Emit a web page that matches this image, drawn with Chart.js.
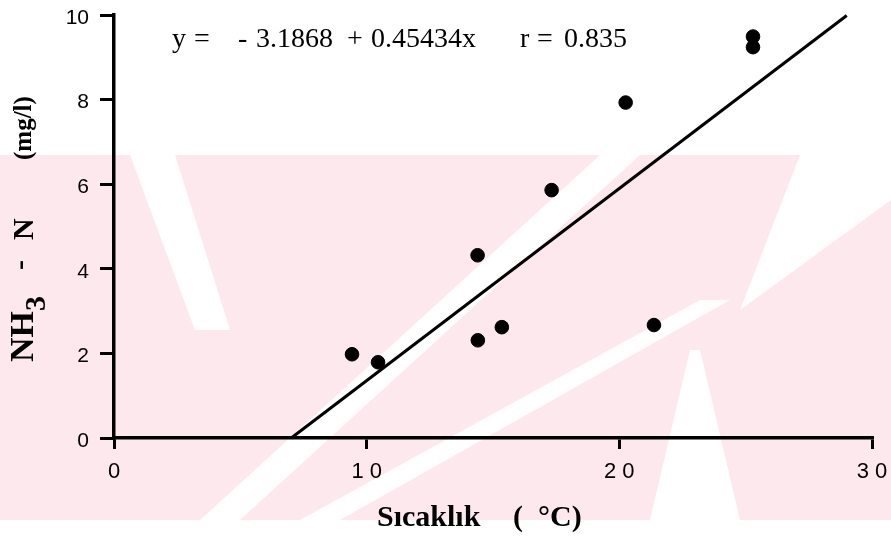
<!DOCTYPE html>
<html>
<head>
<meta charset="utf-8">
<script src="https://cdn.jsdelivr.net/npm/chart.js@4.4.0/dist/chart.umd.min.js"></script>
<style>
  html, body { margin: 0; background: #fff; }
  #wrap { width: 891px; height: 538px; }
</style>
</head>
<body>
<div id="wrap"><canvas id="chart"></canvas></div>
<script>
// Ammonia nitrogen vs. water temperature
const tempC  = [9.42, 10.45, 14.39, 14.40, 15.35, 17.32, 20.25, 21.37, 25.29, 25.29];
const nh3N   = [1.98, 1.79, 4.32, 2.31, 2.62, 5.86, 7.93, 2.67, 9.49, 9.24];
const xTicks = [0, 10, 20, 30];
const yTicks = [0, 2, 4, 6, 8, 10];

// regression y = a + b x, drawn from where it leaves y = 0 up to its top end
const intercept = -3.1868;
const slope     = 0.45434;
const rValue    = 0.835;
const fitEndX   = 29.0;

const points  = tempC.map((t, i) => ({ x: t, y: nh3N[i] }));
const fitLine = [-intercept / slope, fitEndX].map(x => ({ x, y: intercept + slope * x }));

const INK   = '#000';
const PINK  = '#fde9ed';
const SERIF = '"Liberation Serif", "Times New Roman", serif';
const SANS  = '"Liberation Sans", Arial, sans-serif';

// pale background stripes behind the plot
const backdrop = {
  id: 'backdrop',
  beforeDraw(chart) {
    const ctx = chart.ctx;
    ctx.save();
    ctx.fillStyle = PINK;
    ctx.fillRect(0, 155, 891, 365);
    ctx.fillStyle = '#fff';
    const bands = [
      [[130, 155], [175, 155], [230, 330], [195, 330]],
      [[600, 155], [640, 155], [240, 520], [200, 520]],
      [[700, 300], [730, 300], [340, 520], [300, 520]],
      [[740, 310], [891, 200], [891, 155], [800, 155]],
      [[690, 350], [700, 350], [740, 520], [650, 520]],
    ];
    bands.forEach(poly => {
      ctx.beginPath();
      poly.forEach(([x, y], i) => i ? ctx.lineTo(x, y) : ctx.moveTo(x, y));
      ctx.closePath();
      ctx.fill();
    });
    ctx.restore();
  }
};

// tick labels on x, axis titles and the fit equation
const annotations = {
  id: 'annotations',
  afterDraw(chart) {
    const ctx = chart.ctx;
    const xs = chart.scales.x;
    ctx.save();
    ctx.fillStyle = INK;

    // spaced-out x tick numbers
    ctx.font = '22px ' + SANS;
    ctx.textBaseline = 'alphabetic';
    ctx.textAlign = 'left';
    const gap = 6;
    xTicks.forEach(v => {
      const chars = [...String(v)];
      const w = chars.reduce((acc, ch) => acc + ctx.measureText(ch).width, 0) + gap * (chars.length - 1);
      let x = xs.getPixelForValue(v) - w / 2;
      chars.forEach(ch => { ctx.fillText(ch, x, 478); x += ctx.measureText(ch).width + gap; });
    });

    // x title
    ctx.font = 'bold 30px ' + SERIF;
    ctx.fillText('Sıcaklık', 377, 526);
    ctx.fillText('(', 513, 526);
    ctx.fillText('°C)', 538, 526);

    // y title, reading upwards
    ctx.save();
    ctx.translate(33, 362);
    ctx.rotate(-Math.PI / 2);
    ctx.font = 'bold 34px ' + SERIF;
    ctx.fillText('NH', 0, 0);
    let cx = ctx.measureText('NH').width;
    ctx.font = 'bold 30px ' + SERIF;
    ctx.fillText('3', cx, 12);
    cx += ctx.measureText('3').width + 26;
    ctx.fillText('-', cx, -4);
    ctx.fillText('N', 362 - 240, 0);
    ctx.font = 'bold 25px ' + SERIF;
    ctx.fillText('(mg/l)', 362 - 160, -2);
    ctx.restore();

    // fit equation
    ctx.font = '28px ' + SERIF;
    const eq = [
      ['y', 172], ['=', 194], ['-', 238], [Math.abs(intercept).toFixed(4), 256],
      ['+', 347], [slope.toFixed(5) + 'x', 371],
      ['r', 520], ['=', 537], [rValue.toFixed(3), 564],
    ];
    eq.forEach(([t, x]) => ctx.fillText(t, x, 47));
    ctx.restore();
  }
};

new Chart(document.getElementById('chart'), {
  type: 'scatter',
  data: {
    datasets: [
      {
        label: 'NH3-N',
        data: points,
        backgroundColor: INK,
        borderColor: INK,
        pointRadius: 6.8,
        pointHoverRadius: 6.8,
      },
      {
        type: 'line',
        label: 'fit',
        data: fitLine,
        borderColor: INK,
        borderWidth: 3,
        pointRadius: 0,
        fill: false,
        tension: 0,
        clip: false,
      },
    ],
  },
  options: {
    responsive: true,
    maintainAspectRatio: false,
    animation: false,
    events: [],
    layout: { padding: { top: 15, right: 19, left: 0, bottom: 0 } },
    plugins: {
      legend: { display: false },
      tooltip: { enabled: false },
    },
    scales: {
      x: {
        type: 'linear',
        min: 0,
        max: 30,
        afterBuildTicks: s => { s.ticks = xTicks.map(value => ({ value })); },
        afterFit: s => { s.height = 100; s.paddingLeft = 0; s.paddingRight = 0; },
        ticks: { display: false },
        grid: { drawOnChartArea: false, color: INK, lineWidth: 3, tickLength: 11 },
        border: { color: INK, width: 3.5 },
      },
      y: {
        min: 0,
        max: 10,
        afterBuildTicks: s => { s.ticks = yTicks.map(value => ({ value })); },
        afterFit: s => { s.width = 114; s.paddingTop = 0; s.paddingBottom = 0; },
        ticks: {
          color: INK,
          padding: 11,
          labelOffset: 3,
          font: { family: SANS, size: 21 },
        },
        grid: { drawOnChartArea: false, color: INK, lineWidth: 3, tickLength: 14 },
        border: { color: INK, width: 3.5 },
      },
    },
  },
  plugins: [backdrop, annotations],
});
</script>
</body>
</html>
